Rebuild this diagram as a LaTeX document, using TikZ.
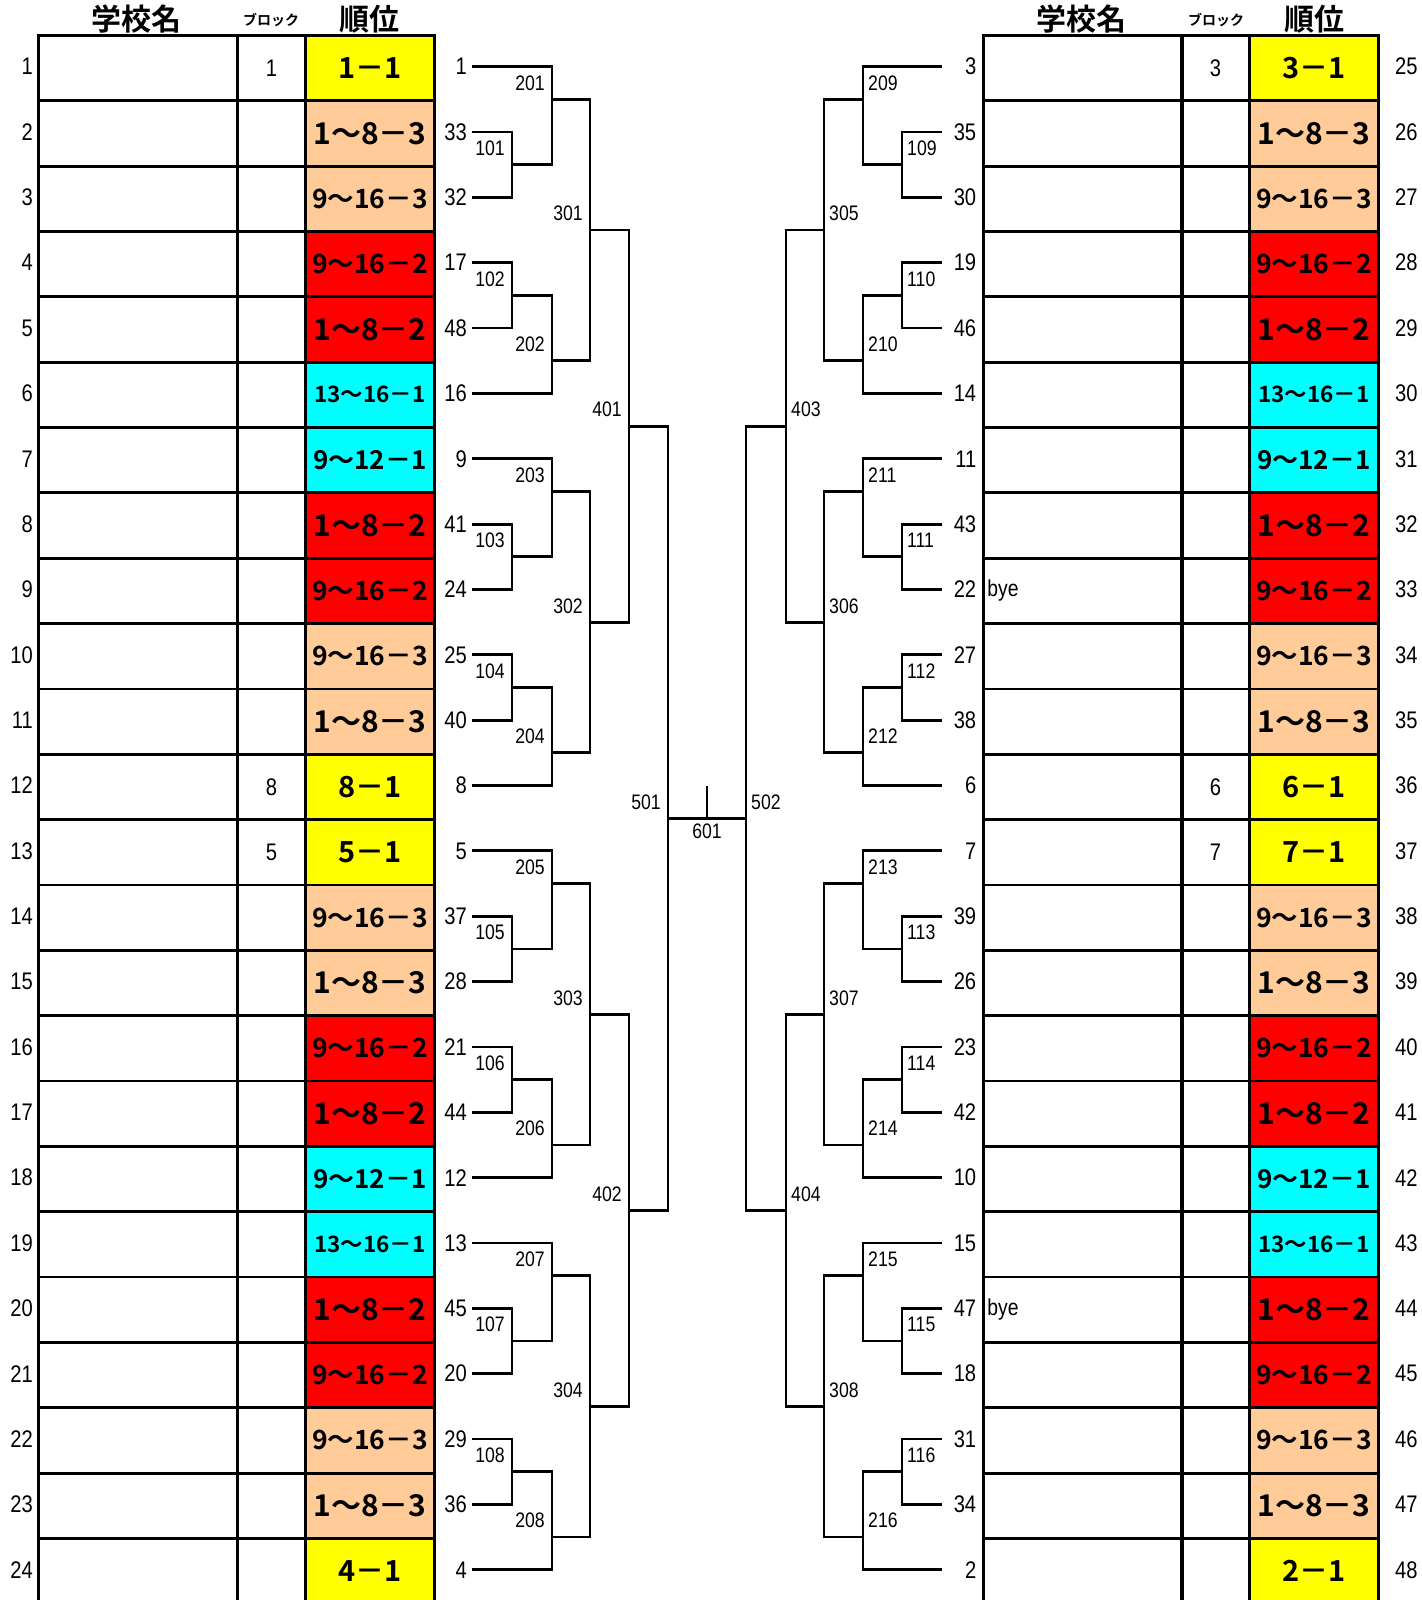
\documentclass[tikz,border=0pt]{standalone}
\usepackage{fontspec}
\setmainfont{Liberation Sans}
\newfontfamily\narrowfont[FakeStretch=0.84]{Liberation Sans}
\newfontfamily\gothic[BoldFont={Noto Sans CJK JP Bold}]{Noto Sans CJK JP}
\definecolor{RankYellow}{HTML}{FFFF00}
\definecolor{RankPeach}{HTML}{FFCC99}
\definecolor{RankRed}{HTML}{FF0000}
\definecolor{RankCyan}{HTML}{00FFFF}
\def\halfrow{32.675}

\tikzset{
  cell/.style={draw=black, line width=2.8pt, inner sep=0pt,
               minimum height=65.35pt, anchor=north west},
  namecell/.style={cell, text width=191pt, inner xsep=4pt, align=left,
                   font=\narrowfont\fontsize{23}{23}\selectfont},
  blkcell/.style={cell, minimum width=68pt,
                  font=\narrowfont\fontsize{24}{24}\selectfont},
  rankcell/.style={cell, minimum width=129pt},
  big/.style={font=\gothic\bfseries\fontsize{30}{30}\selectfont},
  mid/.style={font=\gothic\bfseries\fontsize{26.5}{26.5}\selectfont},
  small/.style={font=\gothic\bfseries\fontsize{22.5}{22.5}\selectfont},
  rkY/.style={fill=RankYellow, font=\gothic\bfseries\fontsize{29}{29}\selectfont},
  rkP1/.style={fill=RankPeach, big},
  rkP9/.style={fill=RankPeach, mid},
  rkR1/.style={fill=RankRed, big},
  rkR9/.style={fill=RankRed, mid},
  rkC/.style={fill=RankCyan, font=\gothic\bfseries\fontsize{26}{26}\selectfont},
  rkCs/.style={fill=RankCyan, small},
  header/.style={anchor=base, inner sep=0pt,
                 font=\gothic\bfseries\fontsize{30}{30}\selectfont},
  subheader/.style={header, font=\gothic\bfseries\fontsize{14}{14}\selectfont},
  rownum/.style={inner sep=0pt, font=\narrowfont\fontsize{24}{24}\selectfont},
  seedL/.style={anchor=east, inner xsep=5pt, inner ysep=0pt, text width=29pt,
                align=right, font=\narrowfont\fontsize{24}{24}\selectfont},
  seedR/.style={seedL, anchor=west},
  mlabL/.style={anchor=east, inner sep=0pt,
                font=\narrowfont\fontsize{21}{21}\selectfont},
  mlabR/.style={mlabL, anchor=west},
  bracket/.style={line width=2.8pt},
}

% match point and its number
\newcommand{\matchL}[3]{\coordinate (M#1) at (#2,#3);
  \node[mlabL] (T#1) at (#2-7,#3-\halfrow/2) {#1};}
\newcommand{\matchR}[3]{\coordinate (M#1) at (#2,#3);
  \node[mlabR] (T#1) at (#2+5,#3-\halfrow/2) {#1};}

\begin{document}
\begin{tikzpicture}[x=1pt, y=-1pt]
  \path[use as bounding box, fill=white] (0,0) rectangle (1421,1600);

  % headers
  \node[header] (Lhdname) at (136,31) {学校名};
  \node[subheader] (Lhdblk) at (271,26) {ブロック};
  \node[header] (Lhdrank) at (369,31) {順位};
  \node[header] (Rhdname) at (1081,31) {学校名};
  \node[subheader] (Rhdblk) at (1216,26) {ブロック};
  \node[header] (Rhdrank) at (1314,31) {順位};

  % both tables, row by row
  \foreach \r/\sl/\sr/\rl/\rr/\sty/\bl/\br/\nm in {
      1/1/3/1－1/3－1/rkY/1/3/{},
      2/33/35/1～8－3/1～8－3/rkP1/{}/{}/{},
      3/32/30/9～16－3/9～16－3/rkP9/{}/{}/{},
      4/17/19/9～16－2/9～16－2/rkR9/{}/{}/{},
      5/48/46/1～8－2/1～8－2/rkR1/{}/{}/{},
      6/16/14/13～16－1/13～16－1/rkCs/{}/{}/{},
      7/9/11/9～12－1/9～12－1/rkC/{}/{}/{},
      8/41/43/1～8－2/1～8－2/rkR1/{}/{}/{},
      9/24/22/9～16－2/9～16－2/rkR9/{}/{}/bye,
      10/25/27/9～16－3/9～16－3/rkP9/{}/{}/{},
      11/40/38/1～8－3/1～8－3/rkP1/{}/{}/{},
      12/8/6/8－1/6－1/rkY/8/6/{},
      13/5/7/5－1/7－1/rkY/5/7/{},
      14/37/39/9～16－3/9～16－3/rkP9/{}/{}/{},
      15/28/26/1～8－3/1～8－3/rkP1/{}/{}/{},
      16/21/23/9～16－2/9～16－2/rkR9/{}/{}/{},
      17/44/42/1～8－2/1～8－2/rkR1/{}/{}/{},
      18/12/10/9～12－1/9～12－1/rkC/{}/{}/{},
      19/13/15/13～16－1/13～16－1/rkCs/{}/{}/{},
      20/45/47/1～8－2/1～8－2/rkR1/{}/{}/bye,
      21/20/18/9～16－2/9～16－2/rkR9/{}/{}/{},
      22/29/31/9～16－3/9～16－3/rkP9/{}/{}/{},
      23/36/34/1～8－3/1～8－3/rkP1/{}/{}/{},
      24/4/2/4－1/2－1/rkY/{}/{}/{}}{
    \pgfmathsetmacro\yt{34+(\r-1)*65.35}
    \pgfmathsetmacro\yc{\yt+\halfrow}
    \pgfmathtruncatemacro\rn{\r+24}
    \node[rownum, anchor=east] (Ln\r) at (33,\yc) {\r};
    \node[namecell] (Lname\r) at (37,\yt) {};
    \node[blkcell] (Lblk\r) at (236,\yt) {\bl};
    \node[rankcell, \sty] (Lrk\r) at (304,\yt) {\rl};
    \node[seedL] (Ls\r) at (472,\yc) {\sl};
    \node[seedR] (Rs\r) at (942,\yc) {\sr};
    \node[namecell] (Rname\r) at (982,\yt) {\nm};
    \node[blkcell] (Rblk\r) at (1180,\yt) {\br};
    \node[rankcell, \sty] (Rrk\r) at (1248,\yt) {\rr};
    \node[rownum, anchor=west] (Rn\r) at (1395,\yc) {\rn};
  }

  % first three rounds, six rows at a time
  \foreach \g in {0,1,2,3}{
    \pgfmathsetmacro\B{34+12*\g*\halfrow}
    \pgfmathtruncatemacro\rA{6*\g+1}
    \pgfmathtruncatemacro\rB{6*\g+2}
    \pgfmathtruncatemacro\rC{6*\g+3}
    \pgfmathtruncatemacro\rD{6*\g+4}
    \pgfmathtruncatemacro\rE{6*\g+5}
    \pgfmathtruncatemacro\rF{6*\g+6}
    % left half
    \pgfmathtruncatemacro\mA{101+2*\g}
    \pgfmathtruncatemacro\mB{102+2*\g}
    \pgfmathtruncatemacro\mC{201+2*\g}
    \pgfmathtruncatemacro\mD{202+2*\g}
    \pgfmathtruncatemacro\mE{301+\g}
    \matchL{\mA}{512}{\B+4*\halfrow}
    \matchL{\mB}{512}{\B+8*\halfrow}
    \matchL{\mC}{552}{\B+2*\halfrow}
    \matchL{\mD}{552}{\B+10*\halfrow}
    \matchL{\mE}{590}{\B+6*\halfrow}
    \draw[bracket] (Ls\rB.east) -| (M\mA) (Ls\rC.east) -| (M\mA);
    \draw[bracket] (Ls\rA.east) -| (M\mC) (M\mA) -| (M\mC);
    \draw[bracket] (Ls\rD.east) -| (M\mB) (Ls\rE.east) -| (M\mB);
    \draw[bracket] (M\mB) -| (M\mD) (Ls\rF.east) -| (M\mD);
    \draw[bracket] (M\mC) -| (M\mE) (M\mD) -| (M\mE);
    % right half
    \pgfmathtruncatemacro\nA{109+2*\g}
    \pgfmathtruncatemacro\nB{110+2*\g}
    \pgfmathtruncatemacro\nC{209+2*\g}
    \pgfmathtruncatemacro\nD{210+2*\g}
    \pgfmathtruncatemacro\nE{305+\g}
    \matchR{\nA}{902}{\B+4*\halfrow}
    \matchR{\nB}{902}{\B+8*\halfrow}
    \matchR{\nC}{863}{\B+2*\halfrow}
    \matchR{\nD}{863}{\B+10*\halfrow}
    \matchR{\nE}{824}{\B+6*\halfrow}
    \draw[bracket] (Rs\rB.west) -| (M\nA) (Rs\rC.west) -| (M\nA);
    \draw[bracket] (Rs\rA.west) -| (M\nC) (M\nA) -| (M\nC);
    \draw[bracket] (Rs\rD.west) -| (M\nB) (Rs\rE.west) -| (M\nB);
    \draw[bracket] (M\nB) -| (M\nD) (Rs\rF.west) -| (M\nD);
    \draw[bracket] (M\nC) -| (M\nE) (M\nD) -| (M\nE);
  }

  % semi finals and final
  \matchL{401}{629}{34+12*\halfrow}
  \matchL{402}{629}{34+36*\halfrow}
  \matchR{403}{786}{34+12*\halfrow}
  \matchR{404}{786}{34+36*\halfrow}
  \matchL{501}{668}{34+24*\halfrow}
  \matchR{502}{746}{34+24*\halfrow}
  \coordinate (M601) at (707,34+24*\halfrow);
  \coordinate (M601t) at (707,34+23*\halfrow);
  \node[mlabL, anchor=center] (T601) at (707,34+24.4*\halfrow) {601};

  \draw[bracket] (M301) -| (M401) (M302) -| (M401);
  \draw[bracket] (M303) -| (M402) (M304) -| (M402);
  \draw[bracket] (M305) -| (M403) (M306) -| (M403);
  \draw[bracket] (M307) -| (M404) (M308) -| (M404);
  \draw[bracket] (M401) -| (M501) (M402) -| (M501);
  \draw[bracket] (M403) -| (M502) (M404) -| (M502);
  \draw[bracket] (M501) -- (M502);
  \draw[bracket] (M601) -- (M601t);
\end{tikzpicture}
\end{document}
